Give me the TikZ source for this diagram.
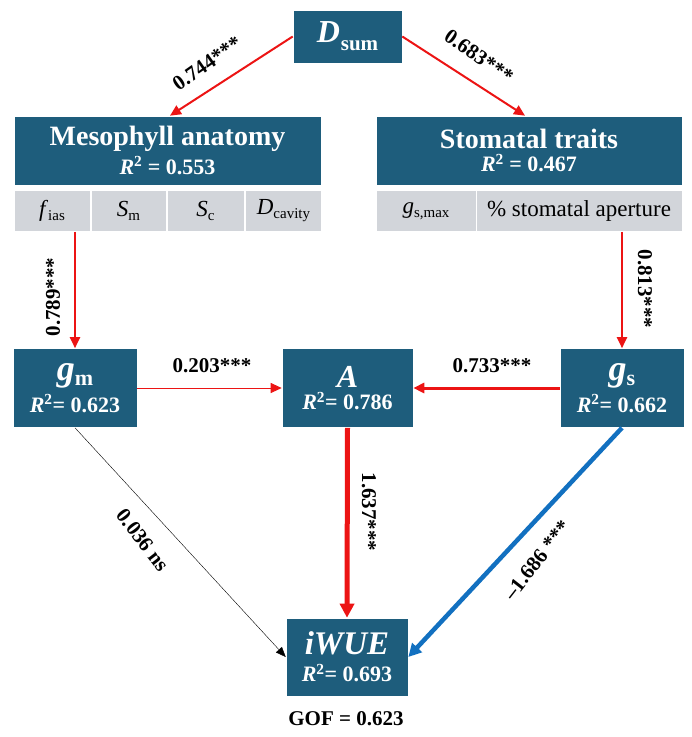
\documentclass[tikz,border=0pt]{standalone}
\usepackage{fontspec}
\setmainfont{Liberation Serif}
\usetikzlibrary{arrows.meta}
\definecolor{boxblue}{RGB}{30,93,124}
\definecolor{cellgrey}{RGB}{210,213,218}
\definecolor{pathred}{RGB}{236,20,20}
\definecolor{pathblue}{RGB}{18,112,192}
\newcommand{\fs}[1]{\fontsize{#1}{#1}\selectfont}
\newcommand{\lowsub}[2]{\raisebox{-#2pt}{#1}}
\begin{document}
\begin{tikzpicture}[x=1pt,y=-1pt,
  mainbox/.style={fill=boxblue,text=white,font=\bfseries,inner sep=0pt,align=center,draw=white,line width=0.6pt},
  cellbox/.style={fill=cellgrey,inner sep=0pt,minimum height=41pt,draw=white,line width=0.6pt},
  elabel/.style={font=\fs{21}\bfseries,inner sep=1pt},
  redarrow/.style={draw=pathred,-{Triangle[length=11pt,width=10pt]}},
]
\useasboundingbox (0,0) rectangle (692,737);
% nodes
\node[mainbox,minimum width=109pt,minimum height=53pt] (dsum) at (347.5,36.5)
  {\fs{32}\itshape D\kern1pt\lowsub{\fs{21}\upshape sum}{8}};
\node[mainbox,minimum width=307pt,minimum height=69pt] (meso) at (167.5,150.5)
  {\fs{28}Mesophyll anatomy\\[4pt]\fs{22}\textit{R}\textsuperscript{2} = 0.553};
\node[mainbox,minimum width=306pt,minimum height=69pt] (stom) at (529,150.5)
  {\fs{28}Stomatal traits\\[4pt]\fs{22}\textit{R}\textsuperscript{2} = 0.467};
\node[cellbox,minimum width=76pt] (fias) at (52,211) {\fs{23}\textit{f}\lowsub{\fs{15}ias}{4}};
\node[cellbox,minimum width=75pt] (sm) at (128.5,211) {\fs{23}\textit{S}\lowsub{\fs{15}m}{4}};
\node[cellbox,minimum width=77pt] (sc) at (205.5,211) {\fs{23}\textit{S}\lowsub{\fs{15}c}{4}};
\node[cellbox,minimum width=76pt] (dcav) at (283.5,211) {\fs{23}\textit{D}\lowsub{\fs{15}cavity}{4}};
\node[cellbox,minimum width=100pt] (gsmax) at (426,211) {\fs{23}\textit{g}\lowsub{\fs{15}s,max}{4}};
\node[cellbox,minimum width=206pt] (aper) at (579,211) {\fs{23}\% stomatal aperture};
\node[mainbox,minimum width=124pt,minimum height=79pt] (gm) at (75,388)
  {\fs{36}\itshape g\lowsub{\fs{22}\upshape m}{5}\\[5pt]\fs{22}\textit{R}\textsuperscript{2}= 0.623};
\node[mainbox,minimum width=131pt,minimum height=79pt] (A) at (347.5,388)
  {\fs{32}\itshape A\\[4pt]\fs{22}\textit{R}\textsuperscript{2}= 0.786};
\node[mainbox,minimum width=124pt,minimum height=79pt] (gs) at (622,388)
  {\fs{36}\itshape g\lowsub{\fs{22}\upshape s}{5}\\[5pt]\fs{22}\textit{R}\textsuperscript{2}= 0.662};
\node[mainbox,minimum width=122pt,minimum height=78pt] (iwue) at (347,657)
  {\fs{33}\itshape iWUE\\[8pt]\fs{22}\textit{R}\textsuperscript{2}= 0.693};
\node[font=\fs{21}\bfseries] (gof) at (346,719) {GOF = 0.623};
% connectors
\draw[redarrow,line width=2pt] (dsum.west) -- (meso.north -| 170,0);
\draw[redarrow,line width=2pt] (dsum.east) -- (stom.north -| 525,0);
\draw[redarrow,line width=2pt] (gm.north |- fias.south) -- (gm.north);
\draw[redarrow,line width=2pt] (gs.north |- aper.south) -- (gs.north);
\draw[redarrow,line width=1pt] (gm.east) -- (A.west);
\draw[redarrow,line width=3pt] (gs.west) -- (A.east);
\draw[draw=pathred,line width=5pt,-{Triangle[length=14pt,width=14pt]}] (A.south) -- (iwue.north);
\draw[draw=black,line width=0.4pt,-{Triangle[length=10pt,width=8pt]}] (gm.south) -- (iwue.west);
\draw[draw=pathblue,line width=4.5pt,-{Triangle[length=13pt,width=13pt]}] (gs.south) -- (iwue.east);
% labels
\node[elabel,rotate=35] (l1) at (207,63) {0.744***};
\node[elabel,rotate=-35] (l2) at (479,56) {0.683***};
\node[elabel,rotate=90] (l3) at (53,297) {0.789***};
\node[elabel,rotate=-90] (l4) at (645,289) {0.813***};
\node[elabel] (l5) at (212,366) {0.203***};
\node[elabel] (l6) at (492,366) {0.733***};
\node[elabel,rotate=-90] (l7) at (369,512) {1.637***};
\node[elabel,rotate=-52] (l8) at (143,540) {0.036 ns};
\node[elabel,rotate=52] (l9) at (537,560) {\textendash1.686 ***};
\end{tikzpicture}
\end{document}
